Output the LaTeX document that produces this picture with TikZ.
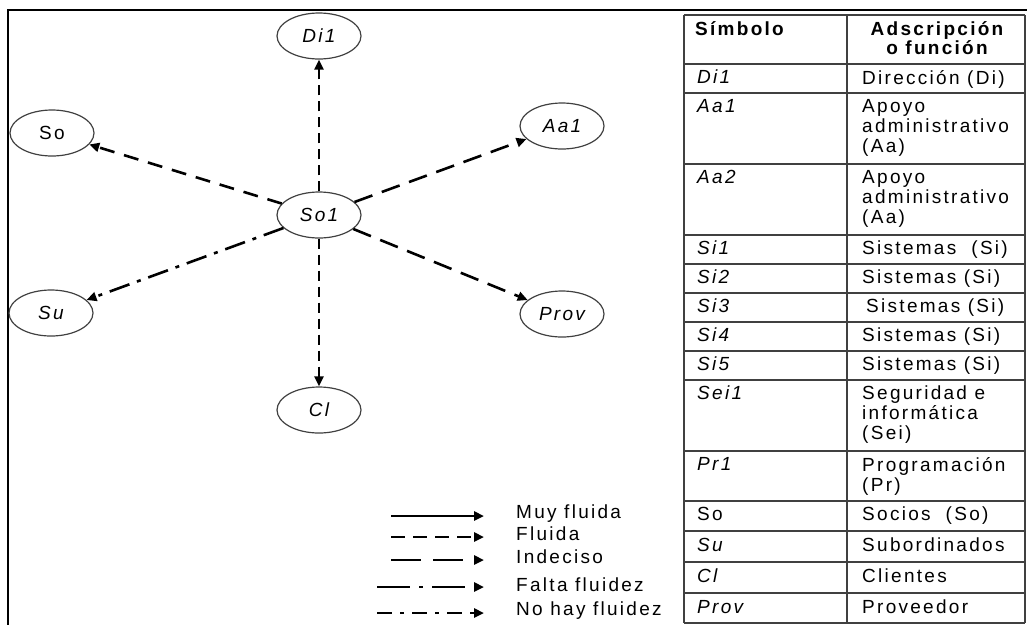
\documentclass[tikz,border=0pt]{standalone}
\usepackage{fontspec}
\setmainfont{Liberation Sans}[LetterSpace=12]
\usetikzlibrary{shapes.geometric, arrows.meta}

\begin{document}
\begin{tikzpicture}[x=1pt, y=-1pt,
    txt/.style={font=\fontsize{19}{20}\selectfont, inner sep=0pt, anchor=north west, align=left},
    sym/.style={txt, font=\fontsize{19}{20}\selectfont\itshape},
    hdr/.style={font=\fontsize{19}{19}\selectfont\bfseries, inner sep=0pt},
    actor/.style={ellipse, draw=black!75, line width=1.2pt, minimum width=84pt, minimum height=46pt, inner sep=0pt, font=\fontsize{19}{19}\selectfont\itshape},
    flow/.style={line width=2.6pt, -{Triangle[length=10pt,width=9pt]}},
    fluida/.style={flow, dash pattern=on 10pt off 6pt},
    indeciso/.style={flow, dash pattern=on 19pt off 10pt},
    falta/.style={flow, dash pattern=on 21pt off 8pt on 4pt off 8pt},
    tabline/.style={draw=black!75, line width=1.4pt}]
    \useasboundingbox (0,0) rectangle (1027,625);
    % Frame
    \draw[line width=2.5pt] (7,10) -- (1027,10);
    \draw[line width=2pt] (8,10) -- (8,625);
    % Actors
    \node[actor] (so1) at (319,215) {So1};
    \node[actor] (di1) at (319,36) {Di1};
    \node[actor] (cl) at (319,410) {Cl};
    \node[actor, font=\fontsize{19}{19}\selectfont] (so) at (52,133) {So};
    \node[actor] (aa1) at (562,126) {Aa1};
    \node[actor] (su) at (51,313) {Su};
    \node[actor] (prov) at (562,314) {Prov};
    % Relations
    \draw[fluida] (so1) -- (di1);
    \draw[fluida] (so1) -- (cl);
    \draw[indeciso, dash pattern=on 15pt off 10pt] (so1) -- (so);
    \draw[indeciso] (so1) -- (aa1);
    \draw[indeciso] (so1) -- (prov);
    \draw[falta] (so1) -- (su);
    % Legend
    \coordinate (l1a) at (391,516); \coordinate (l1b) at (484,516);
    \coordinate (l2a) at (391,537); \coordinate (l2b) at (484,537);
    \coordinate (l3a) at (391,560); \coordinate (l3b) at (484,560);
    \coordinate (l4a) at (377,587); \coordinate (l4b) at (484,587);
    \coordinate (l5a) at (377,613); \coordinate (l5b) at (484,613);
    \draw[flow] (l1a) -- (l1b);
    \draw[flow, dash pattern=on 14pt off 8pt] (l2a) -- (l2b);
    \draw[flow, dash pattern=on 30pt off 12pt] (l3a) -- (l3b);
    \draw[flow, dash pattern=on 33pt off 9pt on 4pt off 9pt] (l4a) -- (l4b);
    \draw[flow, dash pattern=on 15pt off 8pt on 4pt off 8pt] (l5a) -- (l5b);
    \node[txt, anchor=west] (k1) at (516,514) {Muy fluida};
    \node[txt, anchor=west] (k2) at (516,534) {Fluida};
    \node[txt, anchor=west] (k3) at (516,557) {Indeciso};
    \node[txt, anchor=west] (k4) at (516,585) {Falta fluidez};
    \node[txt, anchor=west] (k5) at (516,611) {No hay fluidez};
    % Table
    \foreach \y in {15,64,93,164,235,264,293,322,351,380,451,501,531,562,593,623}
        \draw[tabline] (684,\y) -- (1025,\y);
    \draw[tabline] (684,15) -- (684,623);
    \draw[tabline] (847,15) -- (847,623);
    \draw[tabline] (1025,15) -- (1025,623);
    \node[hdr, anchor=north west] (hs) at (695,21) {Símbolo};
    \node[hdr, anchor=north, align=center] (hf) at (937,21) {Adscripción\\o función};
    \node[sym] (s1) at (697,70) {Di1};
    \node[txt] (f1) at (862,70) {Dirección (Di)};
    \node[sym] (s2) at (697,99) {Aa1};
    \node[txt] (f2) at (862,99) {Apoyo\\administrativo\\(Aa)};
    \node[sym] (s3) at (697,170) {Aa2};
    \node[txt] (f3) at (862,170) {Apoyo\\administrativo\\(Aa)};
    \node[sym] (s4) at (697,241) {Si1};
    \node[txt] (f4) at (862,241) {Sistemas\ \ (Si)};
    \node[sym] (s5) at (697,270) {Si2};
    \node[txt] (f5) at (862,270) {Sistemas (Si)};
    \node[sym] (s6) at (697,299) {Si3};
    \node[txt] (f6) at (866,299) {Sistemas (Si)};
    \node[sym] (s7) at (697,328) {Si4};
    \node[txt] (f7) at (862,328) {Sistemas (Si)};
    \node[sym] (s8) at (697,357) {Si5};
    \node[txt] (f8) at (862,357) {Sistemas (Si)};
    \node[sym] (s9) at (697,386) {Sei1};
    \node[txt] (f9) at (862,386) {Seguridad e\\informática\\(Sei)};
    \node[sym] (s10) at (697,457) {Pr1};
    \node[txt] (f10) at (862,457) {Programación\\(Pr)};
    \node[txt] (s11) at (697,507) {So};
    \node[txt] (f11) at (862,507) {Socios\ \ (So)};
    \node[sym] (s12) at (697,538) {Su};
    \node[txt] (f12) at (862,538) {Subordinados};
    \node[sym] (s13) at (697,569) {Cl};
    \node[txt] (f13) at (862,569) {Clientes};
    \node[sym] (s14) at (697,600) {Prov};
    \node[txt] (f14) at (862,600) {Proveedor};
\end{tikzpicture}
\end{document}
